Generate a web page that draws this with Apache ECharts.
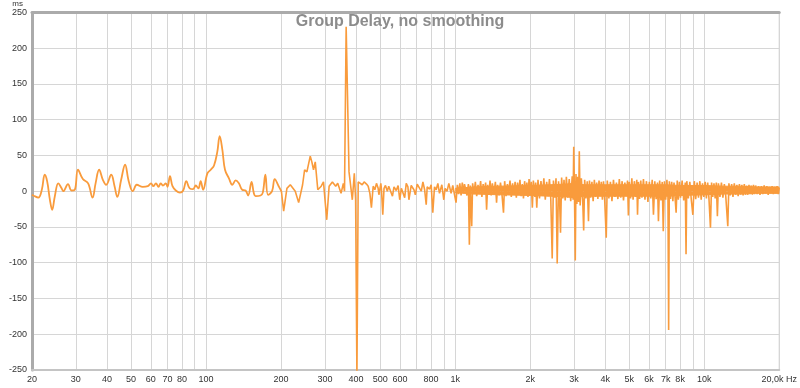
<!DOCTYPE html>
<html>
<head>
<meta charset="utf-8">
<title>Group Delay</title>
<script src="https://cdn.jsdelivr.net/npm/echarts@6/dist/echarts.min.js"></script>
<style>
html, body { margin: 0; padding: 0; background: #fff; }
#gd_chart { width: 800px; height: 388px; }
</style>
</head>
<body>
<div id="gd_chart"></div>
<script>
// group delay, no smoothing. points are [Hz, ms]
// 20 - 200 Hz, drawn as a smooth curve
var bassPoints = [
	[20, -5], [20.24, -6], [21.2, -9], [21.9, 2], [22.5, 23], [23.0, 14], [23.6, -12], [24.1, -26],
	[24.7, -7], [25.5, 11], [26.3, 4], [26.7, 0], [27.9, 10], [28.8, 1], [29.7, 2], [30.6, 30],
	[32.0, 17], [33.6, 11], [35.0, -9], [36.0, 11], [37.2, 30], [38.5, 16], [39.7, 9], [41.6, 23],
	[42.9, 7], [44.0, -8], [45.6, 16], [47.3, 37], [48.9, 14], [50.8, 0], [52.7, 9], [55.7, 6],
	[58.3, 7], [60.1, 11], [61.4, 7], [62.9, 11], [64.4, 6], [65.7, 11], [67.1, 8], [68.9, 11],
	[70.0, 6], [71.6, 21], [73.3, 7], [75.6, 1], [78.5, -2], [80.9, 1], [83.3, 14], [85.9, 4],
	[88.7, 3], [90.9, 8], [93.1, 4], [95.1, 14], [97.3, 2], [101.2, 25], [104.4, 30], [107.6, 36],
	[110.9, 55], [113.4, 77], [116.2, 58], [119.1, 30], [123.5, 18], [127.4, 9], [131.4, 15], [135.4, 11],
	[139.6, 2], [144, 1], [147.5, -6], [152.2, 13], [155.5, -3], [158, -7], [165.4, -6], [168.9, -2],
	[173, 23], [177.3, -5], [184, 0], [188.6, 17], [195.6, 7], [200.6, 0]
];
// 200 Hz - 1 kHz
var midPoints = [
	[200.6, 0], [204.8, -28], [211.1, 4], [217.8, 9], [228, 0], [235.3, -16], [244, 9], [248.6, 30],
	[253.9, 27], [261.9, 49], [265.8, 41], [269.9, 30], [274.3, 41], [280.8, 2], [289.8, 7], [296, 13],
	[305, -40], [311.8, 7], [321.4, 13], [331.4, 7], [337.6, 11], [348.2, -3], [355.6, 11], [359.5, 0],
	[365, 230], [374.8, 27], [381.6, 25], [386.4, -12], [393.6, 25], [398.4, -12], [403.2, -260],
	[408, 13], [414.6, 11], [423.5, 9], [431, 13], [440.6, 10], [447.5, 7], [454.5, -3], [461, -23],
	[468.6, 7], [476, 2], [483, 11], [490.6, 4], [494, -5], [503, 11], [506, 2], [512, -33],
	[518, 4], [525, 8], [534, 0], [541, 7], [551, 9], [560, -7], [568, 6], [580, 1],
	[590, 8], [599, -12], [608, 4], [617, 2], [627, -9], [636, 11], [646, 6], [652, -12],
	[666, 8], [683, 2], [692, -5], [704, 10], [720, 4], [731, 0], [742, 13], [754, 2],
	[765, -19], [772, 6], [789, 3], [801, 9], [813, -30], [826, 6], [839, 2], [852, 11],
	[865, -3], [884, 9], [900, -12], [911, 4], [928, 0], [943, 11], [963, -3], [978, 8], [993, 6]
];
// 1 kHz - 4 kHz
var trebleLow = [
	[1008, -16], [1020, 9], [1032, -4], [1044, 11], [1056, -6], [1068, 12], [1080, -3], [1090, 10],
	[1100, 12], [1115, -6], [1130, 10], [1140, -75], [1150, 8], [1165, -49], [1175, 11], [1190, -4],
	[1205, 13], [1220, -7], [1235, 9], [1250, -3], [1265, 14], [1280, -8], [1295, 10], [1310, -2],
	[1325, 12], [1337, -26], [1350, 9], [1365, -5], [1380, 15], [1395, -6],
	[1410, 11], [1430, -4], [1450, 13], [1466, -16], [1480, 9], [1500, -6], [1520, 12], [1540, -3],
	[1563, -30], [1580, 14], [1600, -7], [1620, 10], [1640, -2], [1660, 15], [1680, -8], [1700, 11],
	[1720, -5], [1740, 13], [1760, -9], [1780, 12], [1800, -3], [1820, 16], [1840, -7], [1860, 10],
	[1880, -10], [1900, 14], [1920, -4], [1940, 12], [1960, -8], [1980, 17], [2000, -5],
	[2020, 13], [2041, -23], [2060, 15], [2090, -8], [2105, 12], [2126, -23], [2150, 16], [2180, -10],
	[2210, 14], [2240, -6], [2270, 18], [2300, -12], [2330, 13], [2360, -7], [2390, 17], [2420, -11],
	[2452, -94], [2480, 15], [2510, -9], [2540, 18], [2568, -101], [2600, 14], [2625, -12], [2648, -58],
	[2675, 19], [2705, -10], [2735, 16], [2765, -13], [2795, 20],
	[2830, -9], [2870, 17], [2910, -14], [2950, 21], [2975, -12], [2992, 62], [3010, 8], [3035, -97],
	[3055, 24], [3080, -18], [3105, 20], [3130, -15], [3150, 56], [3175, -20], [3210, 18], [3250, -12],
	[3280, -55], [3310, 16], [3350, -10], [3390, 14], [3429, -42], [3460, 15], [3500, -9], [3540, 13],
	[3580, -14], [3620, 16], [3660, -8], [3700, 12], [3740, -11], [3780, 15], [3820, -7], [3860, 13],
	[3900, -12], [3940, 14], [3980, -9]
];
// 4 kHz - 20 kHz
var trebleHigh = [
	[4041, -65], [4080, 15], [4140, -10], [4200, 13], [4260, -14], [4320, 16], [4380, -8], [4440, 12],
	[4500, -11], [4560, 17], [4620, -9], [4680, 14], [4740, -13], [4800, 12], [4860, -7], [4920, 15],
	[4959, -34], [5000, 13], [5060, -10], [5120, 18], [5180, -12], [5240, 14], [5300, -8], [5360, 16],
	[5396, -33], [5440, 13], [5500, -11], [5560, 15],
	[5620, -9], [5700, 17], [5780, -12], [5860, 14], [5940, -15], [6020, 13], [6100, -10], [6180, 16],
	[6252, -33], [6330, 14], [6410, -11], [6490, 12], [6547, -42], [6620, 15], [6700, -13], [6780, 13],
	[6845, -56], [6920, 14], [7000, -12], [7080, 16], [7150, -9], [7195, -194], [7240, 14], [7320, -11],
	[7400, 13], [7480, -14], [7560, 12], [7640, -10], [7710, -30], [7790, 15], [7870, -12], [7950, 13],
	[8030, -9], [8150, 15], [8270, -13], [8390, 12], [8450, -88], [8510, 14], [8630, -10], [8750, 13],
	[8870, -12], [9000, -33], [9120, 14], [9240, -11], [9360, 12], [9480, -9], [9600, 14], [9720, -12],
	[9840, 11], [9960, -8], [10080, 13], [10200, -10], [10320, 12], [10440, -9], [10590, -51], [10700, 12],
	[10820, -8], [10940, 11], [11060, -10], [11180, 12], [11290, -35],
	[11400, 11], [11560, -8], [11720, 12], [11880, -9], [12040, 10], [12200, -7], [12430, -49], [12560, 11],
	[12720, -6], [12880, 10], [13040, -8], [13200, 11], [13360, -5], [13520, 9], [13680, -7], [13840, 10],
	[14000, -5], [14160, 9], [14320, -6], [14480, 10], [14640, -5], [14800, 8], [14960, -5], [15120, 9],
	[15280, -4], [15440, 8], [15600, -5], [15760, 9], [15920, -4],
	[16080, 8], [16300, -4], [16520, 7], [16740, -5], [16960, 7], [17180, -4], [17400, 8], [17620, -3],
	[17840, 7], [18060, -5], [18280, 6], [18500, -3], [18720, 7], [18940, -4], [19160, 6], [19380, -3],
	[19600, 7], [19820, -4], [20000, 5]
];
// solid core of the dense noise band above 1 kHz
var bandFreqs = [1000, 1200, 1500, 2000, 2400, 2800, 3000, 3300, 4000, 5000, 6000, 7000, 8000,
	10000, 12000, 14000, 16000, 18000, 20000];
var bandTop = [4, 6, 7, 8, 9, 10, 11, 9, 9, 9, 9, 9, 8, 8, 7, 7, 6, 6, 6];
var bandBottom = [-2, -4, -5, -6, -7, -8, -9, -7, -7, -7, -7, -7, -6, -5, -4, -4, -3, -3, -3];

// vertical grid lines and x labels
var gridFreqs = [20, 30, 40, 50, 60, 70, 80, 90, 100, 200, 300, 400, 500, 600, 700, 800, 900,
	1000, 2000, 3000, 4000, 5000, 6000, 7000, 8000, 9000, 10000, 20000];
var labelFreqs = [20, 30, 40, 50, 60, 70, 80, 100, 200, 300, 400, 500, 600, 800,
	1000, 2000, 3000, 4000, 5000, 6000, 7000, 8000, 10000, 20000];
var labelTexts = ['20', '30', '40', '50', '60', '70', '80', '100', '200', '300', '400', '500', '600', '800',
	'1k', '2k', '3k', '4k', '5k', '6k', '7k', '8k', '10k', '20,0k Hz'];

var gridColor = '#d6d6d6';
var frameColor = '#ababab';
var lineColor = '#f99b3c';
var font = 'Liberation Sans, Arial, sans-serif';

function pairs(xs, ys) {
	return xs.map(function(x, i) { return [x, ys[i]]; });
}

var myChart = echarts.init(document.getElementById('gd_chart'));

var bandStyle = {
	type: 'line',
	showSymbol: false,
	symbol: 'none',
	lineStyle: { color: lineColor, width: 1 },
	areaStyle: { color: lineColor, opacity: 1, origin: 0 },
	z: 2
};

var option = {
	backgroundColor: '#fff',
	animation: false,
	title: {
		text: 'Group Delay, no smoothing',
		left: 'center',
		top: 9,
		textStyle: { color: '#8c8c8c', fontSize: 16, fontWeight: 'bold', fontFamily: font }
	},
	grid: {
		left: 32, right: 16, top: 12, bottom: 18,
		show: true, borderColor: '#c8c8c8', borderWidth: 1
	},
	xAxis: [{
		type: 'log',
		logBase: 10,
		min: 20,
		max: 20000,
		axisLine: { show: true, onZero: false, lineStyle: { color: '#c4c4c4', width: 2 } },
		axisTick: { show: false, customValues: gridFreqs },
		axisLabel: {
			customValues: labelFreqs,
			fontSize: 9,
			fontFamily: font,
			color: '#333',
			margin: 5,
			formatter: function(v) {
				var i = labelFreqs.indexOf(Math.round(v));
				return i < 0 ? '' : labelTexts[i];
			}
		},
		splitLine: { show: true, lineStyle: { color: gridColor, width: 1 } },
		minorTick: { show: false },
		minorSplitLine: { show: false }
	}, {
		// thick top frame
		type: 'log',
		min: 20,
		max: 20000,
		position: 'top',
		axisLine: { show: true, onZero: false, lineStyle: { color: frameColor, width: 3 } },
		axisTick: { show: false },
		axisLabel: { show: false },
		splitLine: { show: false }
	}],
	yAxis: {
		type: 'value',
		min: -250,
		max: 250,
		interval: 50,
		name: 'ms',
		nameLocation: 'end',
		nameGap: 3,
		nameTextStyle: { fontSize: 8, fontFamily: font, color: '#333', align: 'right', padding: [0, 9, 0, 0] },
		axisLine: { show: true, onZero: false, lineStyle: { color: frameColor, width: 3 } },
		axisTick: { show: false },
		axisLabel: { fontSize: 9, fontFamily: font, color: '#333', margin: 5 },
		splitLine: { show: true, lineStyle: { color: gridColor, width: 1 } }
	},
	series: [
		echarts.util.extend({ name: 'band top', data: pairs(bandFreqs, bandTop) }, bandStyle),
		echarts.util.extend({ name: 'band bottom', data: pairs(bandFreqs, bandBottom) }, bandStyle),
		{
			name: 'bass',
			type: 'line',
			data: bassPoints,
			smooth: 0.4,
			showSymbol: false,
			symbol: 'none',
			lineStyle: { color: lineColor, width: 1.8 },
			z: 3
		}, {
			name: 'rest',
			type: 'line',
			data: midPoints.concat(trebleLow, trebleHigh),
			showSymbol: false,
			symbol: 'none',
			sampling: null,
			clip: true,
			lineStyle: { color: lineColor, width: 1.6 },
			z: 3
		}
	]
};

myChart.setOption(option);
</script>
</body>
</html>
